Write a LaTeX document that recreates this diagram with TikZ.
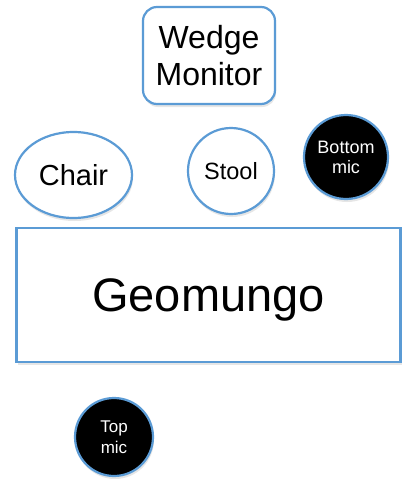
\documentclass[tikz,border=0pt]{standalone}
\usepackage{fontspec}
\setmainfont{Liberation Sans}
\usetikzlibrary{shapes.geometric,shadows}

\definecolor{edgeblue}{RGB}{91,155,213}

\tikzset{
	part/.style={draw=edgeblue, line width=2.2pt, fill=white, inner sep=0pt, align=center,
		drop shadow={opacity=0.2, shadow xshift=1pt, shadow yshift=-3pt}},
	micro/.style={part, circle, fill=black, text=white},
}

\begin{document}
\begin{tikzpicture}[x=1pt,y=-1pt]
	\useasboundingbox (0,0) rectangle (402,479);

	\node[part, rounded corners=14pt, minimum width=132pt, minimum height=97pt,
		font=\fontsize{32}{37}\selectfont] (wedge) at (209,55.5) {Wedge\\Monitor};
	\node[part, ellipse, minimum width=117pt, minimum height=86pt,
		font=\fontsize{29}{34}\selectfont] (chair) at (73.5,175) {Chair};
	\node[part, circle, minimum size=86pt,
		font=\fontsize{23.5}{28}\selectfont] (stool) at (231,171) {Stool};
	\node[micro, minimum size=84pt,
		font=\fontsize{18}{20}\selectfont] (bottommic) at (346,157) {Bottom\\mic};
	\node[part, rectangle, minimum width=384pt, minimum height=134pt, text depth=0pt,
		font=\fontsize{47}{54}\selectfont] (geomungo) at (208.5,295) {Geomungo};
	\node[micro, minimum size=78pt,
		font=\fontsize{17}{21}\selectfont] (topmic) at (114,437) {Top\\mic};
\end{tikzpicture}
\end{document}
